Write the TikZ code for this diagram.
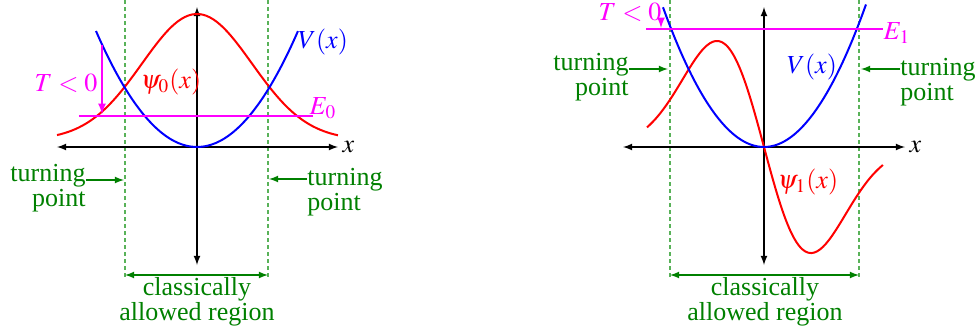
\documentclass[tikz,border=0pt]{standalone}
\usepackage{mathptmx}
\usepackage[no-math]{fontspec}
\setmainfont{Liberation Serif}
\newfontfamily\labelfont{Liberation Serif}
\usepackage{tikz}
\usetikzlibrary{calc}

\definecolor{tpgreen}{rgb}{0,0.5,0}
\definecolor{dashgreen}{rgb}{0.35,0.7,0.35}
\definecolor{tmag}{rgb}{1,0,1}

\begin{document}
\begin{tikzpicture}[>=latex, x=0.5pt, y=0.5pt, font=\labelfont\fontsize{13}{12.4}\selectfont,
    axis/.style={<->, line width=0.6pt},
    curve/.style={line width=1pt, smooth},
    level/.style={tmag, line width=0.8pt},
    bound/.style={dashgreen, dash pattern=on 2pt off 1.5pt, line width=0.6pt},
    tplabel/.style={tpgreen, inner sep=0pt},
    tparrow/.style={->, tpgreen, line width=0.6pt}]
  \useasboundingbox (-197,-187) rectangle (779,147);
  % (a) ground state: psi_0 is a bell curve, E_0 cuts the well at the turning points
  \begin{scope}
    \foreach \xb in {-72,71} \draw[bound] (\xb,147) -- (\xb,-130);
    \draw[axis] (-140,0) -- (141,0) node[right, inner sep=2pt] (xa) {$x$};
    \draw[axis] (0,140) -- (0,-118);
    \draw[curve, red] plot[domain=-1.4:1.41, samples=80] ({100*\x}, {7+126*exp(-\x*\x/0.605)});
    \draw[curve, blue] plot[domain=-1.01:1.01, samples=50] ({100*\x}, {113.7*\x*\x});
    \draw[level] (-118,31) -- (116,31);
    \node[tmag] (ea) at (126,39) {$E_0$};
    \draw[->, tmag, line width=0.8pt] (-95,102) -- (-95,33);
    \node[tmag] (tnega) at (-131,64) {$T<0$};
    \node[blue] (va) at (126,105) {$V(x)$};
    \node[red] (psia) at (-26,65) {$\psi_0(x)$};
    % turning points and the allowed region
    \node[tplabel, align=right, anchor=east] (tpla) at (-111,-41.5) {turning\\point};
    \coordinate (tplaend) at (-73,-33);
    \draw[tparrow] (tpla.east |- tplaend) -- (tplaend);
    \node[tplabel, align=left, anchor=west] (tpra) at (110,-45) {turning\\point};
    \coordinate (tpraend) at (72,-32);
    \draw[tparrow] (tpra.west |- tpraend) -- (tpraend);
    \coordinate (ala) at (-72,-128);
    \coordinate (alb) at (71,-128);
    \draw[tparrow, <->] (ala) -- (alb);
    \node[tpgreen, align=center] (cla) at (0,-155) {classically\\allowed region};
  \end{scope}
  % (b) first excited state: psi_1 is odd, E_1 sits higher in the well
  \begin{scope}[shift={(567,0)}]
    \foreach \xb in {-94,95} \draw[bound] (\xb,147) -- (\xb,-130);
    \draw[axis] (-141,0) -- (141,0) node[right, inner sep=2pt] (xb) {$x$};
    \draw[axis] (0,140) -- (0,-118);
    \draw[curve, red] plot[domain=-1.17:1.19, samples=80] ({100*\x}, {-372*\x*exp(-\x*\x/0.4418)});
    \draw[curve, blue] plot[domain=-1.01:1.02, samples=50] ({100*\x}, {137*\x*\x});
    \draw[level] (-118,118) -- (119,118);
    \node[tmag] (eb) at (133,114) {$E_1$};
    \draw[->, tmag, line width=0.8pt] (-103,127) -- (-103,119);
    \node[tmag] (tnegb) at (-134,134.5) {$T<0$};
    \node[blue] (vb) at (48,80) {$V(x)$};
    \node[red] (psib) at (44,-35) {$\psi_1(x)$};
    % turning points and the allowed region
    \node[tplabel, align=right, anchor=east] (tplb) at (-135,69.5) {turning\\point};
    \coordinate (tplbend) at (-96,78);
    \draw[tparrow] (tplb.east |- tplbend) -- (tplbend);
    \node[tplabel, align=left, anchor=west] (tprb) at (136,65) {turning\\point};
    \coordinate (tprbend) at (97,78);
    \draw[tparrow] (tprb.west |- tprbend) -- (tprbend);
    \coordinate (alc) at (-94,-128);
    \coordinate (ald) at (95,-128);
    \draw[tparrow, <->] (alc) -- (ald);
    \node[tpgreen, align=center] (clb) at (1,-155) {classically\\allowed region};
  \end{scope}
\end{tikzpicture}
\end{document}
